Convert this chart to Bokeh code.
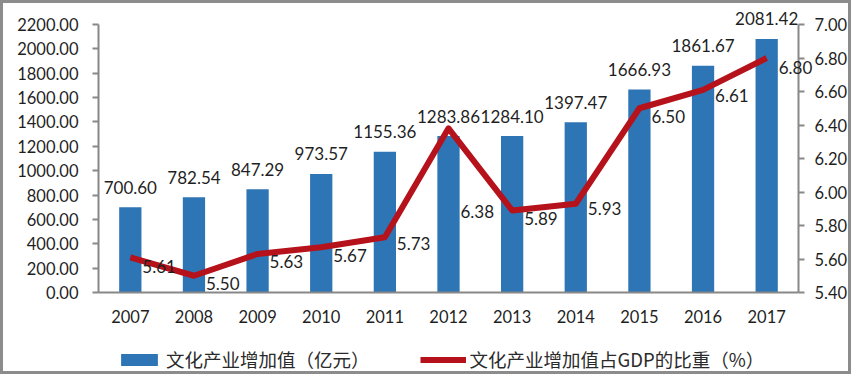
from bokeh.plotting import figure
from bokeh.models import (Range1d, LinearAxis, ColumnDataSource, Legend,
                          LegendItem, FixedTicker, NumeralTickFormatter, LabelSet)
from bokeh.core.properties import value
from bokeh.embed import file_html
from bokeh.resources import INLINE

# ---- data ----
years = ["2007", "2008", "2009", "2010", "2011", "2012", "2013", "2014", "2015", "2016", "2017"]
added_value = [700.60, 782.54, 847.29, 973.57, 1155.36, 1283.86, 1284.10, 1397.47, 1666.93, 1861.67, 2081.42]
gdp_share = [5.61, 5.50, 5.63, 5.67, 5.73, 6.38, 5.89, 5.93, 6.50, 6.61, 6.80]
left_ticks = [0, 200, 400, 600, 800, 1000, 1200, 1400, 1600, 1800, 2000, 2200]
right_ticks = [5.4, 5.6, 5.8, 6.0, 6.2, 6.4, 6.6, 6.8, 7.0]
bar_name = "文化产业增加值（亿元）"
line_name = "文化产业增加值占GDP的比重（%）"

# ---- style / layout (pixels) ----
FIG_W, FIG_H = 851, 374
PLOT_L, PLOT_R, PLOT_T, PLOT_B = 98, 798, 24, 292
BAR_COLOR = "#2E75B6"
LINE_COLOR = "#B5121B"
AXIS_COLOR = "#888888"
TEXT_COLOR = "#1F1F1F"
FONT = "Lato"
CJK_FONT = "Noto Sans CJK SC"
share_label_dy = [-9, -8, -8, -8, -6, -83, -8, -5, -8, -6, -9]

xs = [i + 1 for i in range(len(years))]
x_lo, x_hi = xs[0] - 0.5, xs[-1] + 0.5
l_lo, l_hi = left_ticks[0], left_ticks[-1]
r_lo, r_hi = right_ticks[0], right_ticks[-1]

# extend ranges so the axes sit at the plot-area pixel positions while the frame fills the canvas
xu = (x_hi - x_lo) / (PLOT_R - PLOT_L)
lu = (l_hi - l_lo) / (PLOT_B - PLOT_T)
ru = (r_hi - r_lo) / (PLOT_B - PLOT_T)
x_range = Range1d(x_lo - PLOT_L * xu, x_hi + (FIG_W - PLOT_R) * xu)
y_range = Range1d(l_lo - (FIG_H - PLOT_B) * lu, l_hi + PLOT_T * lu)
pct_range = Range1d(r_lo - (FIG_H - PLOT_B) * ru, r_hi + PLOT_T * ru)

src = ColumnDataSource(dict(
    x=xs,
    value=added_value,
    value_txt=[f"{v:.2f}" for v in added_value],
    share=gdp_share,
    share_txt=[f"{v:.2f}" for v in gdp_share],
    share_dy=share_label_dy,
))

p = figure(width=FIG_W, height=FIG_H, output_backend="svg", toolbar_location=None,
           x_range=x_range, y_range=y_range, min_border=0, x_axis_location=None,
           y_axis_location=None)
p.extra_y_ranges = {"pct": pct_range}
p.outline_line_color = "#8c8c8c"
p.outline_line_width = 5
p.xgrid.visible = False
p.ygrid.visible = False
p.background_fill_color = "white"
p.border_fill_color = "white"

r_bar = p.vbar(x="x", top="value", width=0.35, source=src,
               fill_color=BAR_COLOR, line_color=None)
r_line = p.line(x="x", y="share", source=src, y_range_name="pct",
                line_color=LINE_COLOR, line_width=6, line_join="round")


def style_axis(ax):
    ax.axis_line_color = AXIS_COLOR
    ax.axis_line_width = 2
    ax.major_tick_line_color = AXIS_COLOR
    ax.major_tick_line_width = 2
    ax.major_tick_out = 6
    ax.major_tick_in = 0
    ax.minor_tick_line_color = None
    ax.major_label_text_font = FONT
    ax.major_label_text_font_size = "16.5px"
    ax.major_label_text_color = TEXT_COLOR


ly = LinearAxis(ticker=FixedTicker(ticks=left_ticks), formatter=NumeralTickFormatter(format="0.00"),
                fixed_location=x_lo, bounds=(l_lo, l_hi))
style_axis(ly)
ly.major_label_standoff = 14
p.add_layout(ly, "left")

ry = LinearAxis(y_range_name="pct", ticker=FixedTicker(ticks=right_ticks),
                formatter=NumeralTickFormatter(format="0.00"),
                fixed_location=x_hi, bounds=(r_lo, r_hi))
style_axis(ry)
ry.major_label_standoff = 10
p.add_layout(ry, "right")

bx = LinearAxis(ticker=FixedTicker(ticks=xs),
                major_label_overrides={x: y for x, y in zip(xs, years)},
                fixed_location=l_lo, bounds=(x_lo, x_hi))
style_axis(bx)
bx.major_tick_line_color = None
bx.major_tick_out = 0
bx.major_label_standoff = 17
p.add_layout(bx, "below")

# data labels
p.add_layout(LabelSet(x="x", y="value", text="value_txt", source=src,
                      y_offset=20, text_align="center", text_baseline="middle",
                      text_font=value(FONT), text_font_size=value("17px"), text_color=TEXT_COLOR))
p.add_layout(LabelSet(x="x", y="share", text="share_txt", source=src, y_range_name="pct",
                      x_offset=12, y_offset="share_dy", text_align="left", text_baseline="middle",
                      text_font=value(FONT), text_font_size=value("17px"), text_color=TEXT_COLOR))

legend = Legend(items=[LegendItem(label=bar_name, renderers=[r_bar]),
                       LegendItem(label=line_name, renderers=[r_line])],
                location=(116, 2), orientation="horizontal")
legend.background_fill_alpha = 0
legend.border_line_color = None
legend.padding = 0
legend.margin = 0
legend.spacing = 50
legend.glyph_width = 46
legend.glyph_height = 15
legend.label_height = 20
legend.label_standoff = 4
legend.label_text_font = CJK_FONT
legend.label_text_font_size = "18.5px"
legend.label_text_color = "#2a2a2a"
p.add_layout(legend)

open("out.html", "w").write(file_html(p, INLINE))
